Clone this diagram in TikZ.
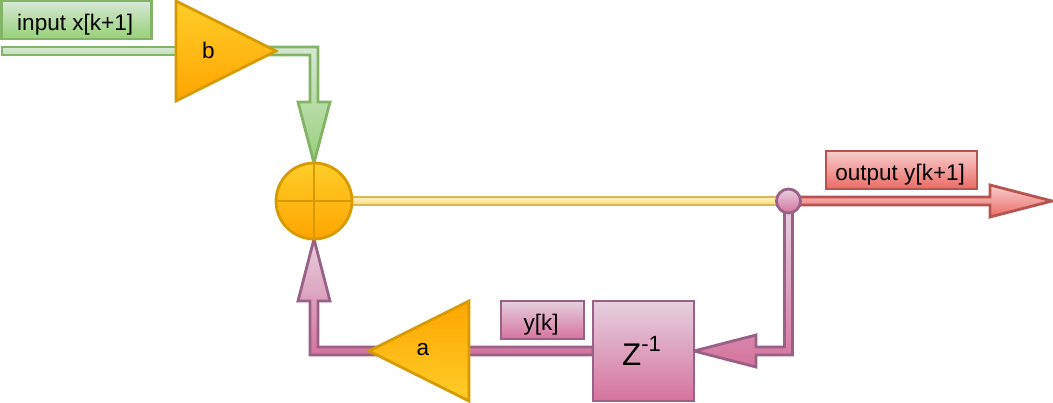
\documentclass[tikz,border=0pt]{standalone}
\usepackage{fontspec}
\setmainfont{Liberation Sans}
\usetikzlibrary{calc,backgrounds}
\definecolor{gLight}{HTML}{D5E8D4}\definecolor{gDark}{HTML}{97D077}\definecolor{gLine}{HTML}{82B366}
\definecolor{oLight}{HTML}{FFCD28}\definecolor{oDark}{HTML}{FFA500}\definecolor{oLine}{HTML}{D79B00}
\definecolor{yLight}{HTML}{FFF2CC}\definecolor{yDark}{HTML}{FFD966}\definecolor{yLine}{HTML}{D6B656}
\definecolor{rLight}{HTML}{F8CECC}\definecolor{rDark}{HTML}{EA6B66}\definecolor{rLine}{HTML}{B85450}
\definecolor{pLight}{HTML}{E6D0DE}\definecolor{pDark}{HTML}{D5739D}\definecolor{pLine}{HTML}{996185}
\tikzset{
  x=0.75pt,y=-0.75pt,
  every node/.style={inner sep=0pt,outer sep=0pt,font=\fontsize{16.9pt}{19pt}\selectfont},
  shapeline/.style={line width=2.1pt,line join=miter},
  green/.style={shapeline,draw=gLine,top color=gLight,bottom color=gDark},
  orange/.style={shapeline,draw=oLine,top color=oLight,bottom color=oDark},
  orangeup/.style={shapeline,draw=oLine,top color=oDark,bottom color=oLight},
  yellow/.style={shapeline,draw=yLine,top color=yLight,bottom color=yDark},
  red/.style={shapeline,draw=rLine,top color=rLight,bottom color=rDark},
  pink/.style={shapeline,draw=pLine,top color=pLight,bottom color=pDark},
  labelbox/.style={rectangle,minimum height=28.5pt,text height=15.5pt,text depth=0pt},
}
\begin{document}
\begin{tikzpicture}
\path[use as bounding box] (0,0) rectangle (1053,403);
% labels and boxes
\node[labelbox,green,minimum width=112.5pt] (inlabel) at (76.5,20) {input x[k+1]\kern2pt};
\node[labelbox,red,minimum width=113.25pt] (outlabel) at (901.5,170) {output y[k+1]\kern2pt};
\node[labelbox,pink,minimum width=62.25pt] (yk) at (542.5,320) {y[k]\kern2pt};
\node[rectangle,pink,minimum width=75.75pt,minimum height=75pt] (zbox) at (643.5,351) {};
\node[font=\fontsize{23.5pt}{26pt}\selectfont,text height=20pt,text depth=0pt] (ztext) at (641.5,351.7) {Z\raisebox{10.5pt}{\fontsize{16.5pt}{20pt}\selectfont -1}};
% summing junction and tap
\node[circle,orange,minimum size=57pt] (sum) at (314,201) {};
\draw[shapeline,oLine] (sum.north) -- (sum.south) (sum.west) -- (sum.east);
\node[circle,pink,minimum size=18pt] (tap) at (788.5,201) {};
% amplifier triangles
\coordinate (bleft) at (176,51);
\coordinate (btip) at (276,51);
\coordinate (aright) at (469,351);
\coordinate (atip) at (369,351);
\path[orange] ($(bleft)+(0,-50)$) -- (btip) -- ($(bleft)+(0,50)$) -- cycle;
\path[orangeup] ($(aright)+(0,-50)$) -- (atip) -- ($(aright)+(0,50)$) -- cycle;
\node (bgain) at (208.5,50) {b};
\node (again) at (423,350) {a};
% free ends and bends
\coordinate (instart) at (2,51);
\coordinate (outtip) at (1052,201);
\begin{pgfonlayer}{background}
  % input to b
  \path[green,top color=gLight,bottom color=gLight!70!gDark] ($(instart)+(0,-4)$) -- ($(bleft)+(20,-4)$) -- ($(bleft)+(20,4)$) -- ($(instart)+(0,4)$) -- cycle;
  % b to sum
  \path[green] ($(btip)+(-20,-4)$) -- ($(sum.north)+(4,-116)$) -- ($(sum.north)+(4,-61)$) -- ($(sum.north)+(16,-61)$) -- (sum.north) -- ($(sum.north)+(-16,-61)$) -- ($(sum.north)+(-4,-61)$) -- ($(sum.north)+(-4,-108)$) -- ($(btip)+(-20,4)$) -- cycle;
  % sum to tap
  \path[yellow] ($(sum.east)+(0,-4)$) -- ($(tap.west)+(5,-4)$) -- ($(tap.west)+(5,4)$) -- ($(sum.east)+(0,4)$) -- cycle;
  % tap to output
  \path[red] ($(tap.east)+(-5,-4)$) -- ($(outtip)+(-62,-4)$) -- ($(outtip)+(-62,-16)$) -- (outtip) -- ($(outtip)+(-62,16)$) -- ($(outtip)+(-62,4)$) -- ($(tap.east)+(-5,4)$) -- cycle;
  % tap to z box
  \path[pink] ($(tap.south)+(-4,-5)$) -- ($(tap.south)+(4,-5)$) -- ($(zbox.east)+(98.5,4)$) -- ($(zbox.east)+(62,4)$) -- ($(zbox.east)+(62,16)$) -- (zbox.east) -- ($(zbox.east)+(62,-16)$) -- ($(zbox.east)+(62,-4)$) -- ($(zbox.east)+(90.5,-4)$) -- cycle;
  % z box to sum, behind a
  \path[pink] ($(zbox.west)+(0,-4)$) -- ($(sum.south)+(4,108)$) -- ($(sum.south)+(4,62)$) -- ($(sum.south)+(16,62)$) -- (sum.south) -- ($(sum.south)+(-16,62)$) -- ($(sum.south)+(-4,62)$) -- ($(sum.south)+(-4,116)$) -- ($(zbox.west)+(0,4)$) -- cycle;
\end{pgfonlayer}
\end{tikzpicture}
\end{document}
